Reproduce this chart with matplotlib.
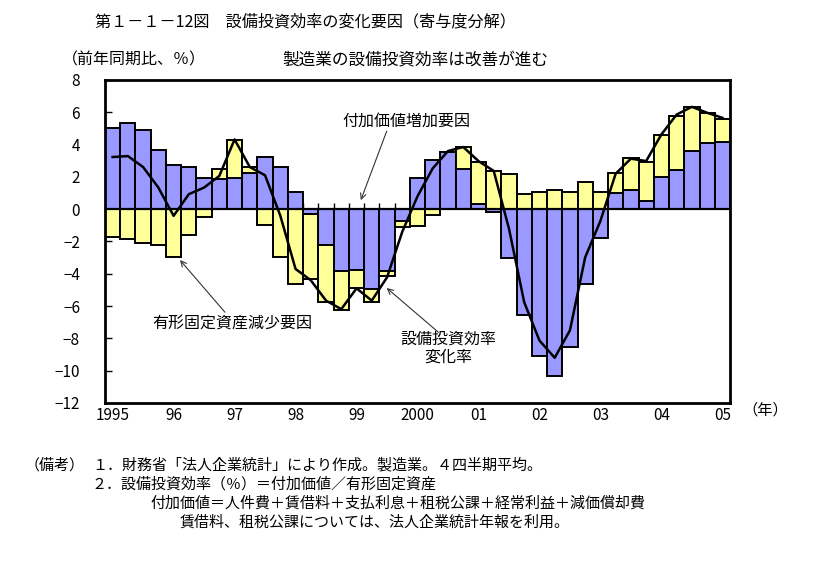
import numpy as np
import matplotlib
matplotlib.use('Agg')
from matplotlib import pyplot as plt

plt.rcParams['font.family'] = ['Noto Sans CJK JP', 'DejaVu Sans']

# quarterly, 1995 Q1 - 2005 Q1 (寄与度, %)
value_added = [5.04, 5.35, 4.88, 3.64, 2.72, 2.59, 1.95, 1.89, 1.95, 2.26,
               3.21, 2.59, 1.05, -0.31, -2.22, -3.85, -3.77, -4.94, -3.85, -0.76,
               1.91, 3.02, 3.54, 2.47, 0.31, -0.16, -3.02, -6.54, -9.12, -10.3,
               -8.52, -4.61, -1.79, 1.01, 1.21, 0.51, 1.98, 2.45, 3.58, 4.09,
               4.18]
fixed_assets = [-1.71, -1.85, -2.10, -2.22, -2.94, -1.60, -0.49, 0.58, 2.31, 0.37,
                -0.99, -2.94, -4.61, -4.00, -3.50, -2.38, -1.11, -0.80, -0.29, -0.33,
                -1.05, -0.37, 0.0, 1.40, 2.59, 2.35, 2.20, 0.97, 1.09, 1.17,
                1.09, 1.67, 1.09, 1.21, 1.94, 2.39, 2.61, 3.35, 2.76, 1.84,
                1.38]
efficiency = [3.23, 3.29, 2.61, 1.34, -0.41, 0.93, 1.34, 2.06, 4.32, 2.61,
              2.10, -0.40, -3.70, -4.40, -5.66, -6.19, -4.90, -5.66, -4.22, -1.40,
              0.80, 2.53, 3.60, 3.85, 2.98, 2.37, -1.20, -5.76, -8.13, -9.20,
              -7.50, -2.98, -0.72, 2.20, 3.13, 2.98, 4.63, 5.86, 6.34, 5.97,
              5.66]
year_labels = ['1995', '96', '97', '98', '99', '2000', '01', '02', '03', '04', '05']

W, H = 814, 564
fig = plt.figure(figsize=(W / 100, H / 100), dpi=100)
ax = fig.add_axes([105 / W, 1 - 403 / H, 625 / W, 323 / H])

x = np.arange(len(value_added))
va = np.array(value_added)
fa = np.array(fixed_assets)
# stack yellow on blue when same sign, otherwise from zero
fa_bottom = np.where(np.sign(va) == np.sign(fa), va, 0)

ax.bar(x, va, width=1.0, color='#9999FF', edgecolor='black', linewidth=1.4, zorder=2)
ax.bar(x, fa, width=1.0, bottom=fa_bottom, color='#FFFF99', edgecolor='black', linewidth=1.4, zorder=2)
ax.axhline(0, color='black', linewidth=1.6, zorder=3)
ax.plot(np.append(x - 0.5, x[-1] + 0.5), np.zeros(len(x) + 1), ls='none',
        marker=2, ms=4, mew=1, color='black', zorder=1)
ax.plot(x, efficiency, color='black', linewidth=1.8, zorder=4)

ax.set_xlim(-0.5, len(x) - 0.5)
ax.set_ylim(-12, 8)
ax.set_yticks(np.arange(-12, 9, 2))
ax.set_xticks(x[::4])
ax.set_xticklabels(year_labels)
ax.tick_params(axis='y', direction='in', length=5, width=1, pad=18, labelsize=11)
ax.tick_params(axis='x', length=0, pad=3, labelsize=11)
for s in ax.spines.values():
    s.set_linewidth(2)

# annotations
arrow = dict(arrowstyle='->', color='#333333', lw=0.8, shrinkA=0, shrinkB=0)
ax.text(19.25, 5.45, '付加価値増加要因', ha='center', va='center', fontsize=11.5)
ax.annotate('', xy=(16.28, 0.56), xytext=(17.98, 4.83), arrowprops=arrow)
ax.text(7.83, -7.13, '有形固定資産減少要因', ha='center', va='center', fontsize=11.5)
ax.annotate('', xy=(4.42, -3.15), xytext=(7.37, -6.38), arrowprops=arrow)
ax.text(22.0, -8.62, '設備投資効率\n変化率', ha='center', va='center', fontsize=11.5,
        linespacing=1.1)
ax.annotate('', xy=(17.98, -4.88), xytext=(21.37, -7.62), arrowprops=arrow)


def ftext(px, py, s, **kw):
    fig.text(px / W, 1 - py / H, s, va='center', **kw)


ftext(95, 22, '第１－１－12図　設備投資効率の変化要因（寄与度分解）', fontsize=11.6)
ftext(62, 60, '（前年同期比、％）', fontsize=11.5)
ftext(282, 60, '製造業の設備投資効率は改善が進む', fontsize=12)
ftext(742, 410, '（年）', fontsize=11)

ftext(25, 465, '（備考）', fontsize=10.8)
ftext(92, 465, '１．財務省「法人企業統計」により作成。製造業。４四半期平均。', fontsize=10.8)
ftext(92, 484, '２．設備投資効率（％）＝付加価値／有形固定資産', fontsize=10.8)
ftext(150, 504, '付加価値＝人件費＋賃借料＋支払利息＋租税公課＋経常利益＋減価償却費', fontsize=10.8)
ftext(180, 523, '賃借料、租税公課については、法人企業統計年報を利用。', fontsize=10.8)

fig.savefig('out.png', dpi=100)
